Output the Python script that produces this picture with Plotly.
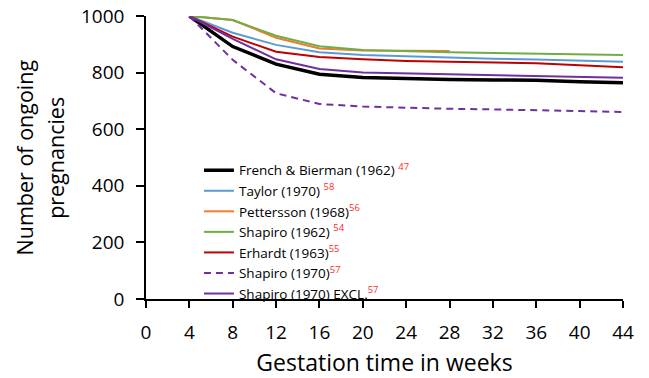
import plotly.graph_objects as go

weeks = [4, 8, 12, 16, 20, 24, 28, 32, 36, 40, 44]
weeks_pett = [4, 8, 12, 16, 20, 24, 28]

french = [1000, 892, 830, 794, 783, 778, 776, 774, 773, 768, 764]
taylor = [1000, 941, 898, 872, 862, 857, 853, 849, 846, 843, 838]
pettersson = [1000, 986, 923, 885, 878, 876, 876]
shapiro62 = [1000, 986, 930, 893, 880, 875, 872, 869, 867, 864, 862]
erhardt = [1000, 927, 874, 855, 847, 841, 838, 836, 833, 826, 819]
shapiro70 = [1000, 845, 727, 689, 680, 675, 672, 670, 668, 664, 661]
shapiro70_excl = [1000, 919, 847, 813, 800, 797, 795, 792, 789, 786, 782]

x_ticks = list(range(0, 45, 4))
y_ticks = [0, 200, 400, 600, 800, 1000]
y_title_lines = ["Number of ongoing", "pregnancies"]

def lbl(name, ref, space=True):
    sp = " " if space else ""
    return f"{name}{sp}<sup><span style='color:#ff2a2a'>{ref}</span></sup>"

series = [
    (lbl("French & Bierman (1962)", 47), weeks, french, "#000000", 3.5, "solid"),
    (lbl("Taylor (1970)", 58), weeks, taylor, "#5b9bd5", 2, "solid"),
    (lbl("Pettersson (1968)", 56, False), weeks_pett, pettersson, "#ed7d31", 2, "solid"),
    (lbl("Shapiro (1962)", 54), weeks, shapiro62, "#70ad47", 2, "solid"),
    (lbl("Erhardt (1963)", 55, False), weeks, erhardt, "#c00000", 2, "solid"),
    (lbl("Shapiro (1970)", 57, False), weeks, shapiro70, "#7030a0", 2, "7px,5px"),
    (lbl("Shapiro (1970) EXCL.", 57, False), weeks, shapiro70_excl, "#7030a0", 2, "solid"),
]

fig = go.Figure()
for name, xs, ys, color, w, dash in series:
    fig.add_trace(go.Scatter(x=xs, y=ys, mode="lines", name=name,
                             line=dict(color=color, width=w, dash=dash)))

font_family = "Open Sans, Noto Sans, sans-serif"
fig.update_layout(
    width=649, height=378,
    margin=dict(l=146, r=26, t=16, b=79),
    paper_bgcolor="white", plot_bgcolor="white",
    font=dict(family=font_family, color="#000000"),
    showlegend=True,
    legend=dict(x=0.111, y=0.509, xanchor="left", yanchor="top",
                font=dict(size=13.5, family=font_family), bgcolor="rgba(0,0,0,0)",
                tracegroupgap=0, itemwidth=30),
    xaxis=dict(range=[0, 44], tickvals=x_ticks, ticktext=[str(v) for v in x_ticks],
               showgrid=False, zeroline=False, showline=True, linecolor="#000000", linewidth=1.5,
               ticks="outside", ticklen=7, tickwidth=1.5, tickcolor="#000000",
               tickfont=dict(size=19), automargin=False, ticklabelstandoff=8,
               title=dict(text="Gestation time in weeks", font=dict(size=23), standoff=12)),
    yaxis=dict(range=[0, 1000], tickvals=y_ticks, ticktext=[str(v) for v in y_ticks],
               showgrid=False, zeroline=False, showline=True, linecolor="#000000", linewidth=1.5,
               ticks="outside", ticklen=8, tickwidth=1.5, tickcolor="#000000",
               tickfont=dict(size=19), automargin=False, ticklabelstandoff=8),
)

for line_text, xpos in zip(y_title_lines, [-0.2537, -0.19]):
    fig.add_annotation(text=line_text, xref="paper", yref="paper", x=xpos, y=0.5,
                       xanchor="center", yanchor="middle", textangle=-90, showarrow=False,
                       font=dict(size=21.5, family=font_family, color="#000000"))

fig.write_html("out.html", config={"displayModeBar": False},
               post_script="document.body.style.margin='0';document.body.style.padding='0';")
